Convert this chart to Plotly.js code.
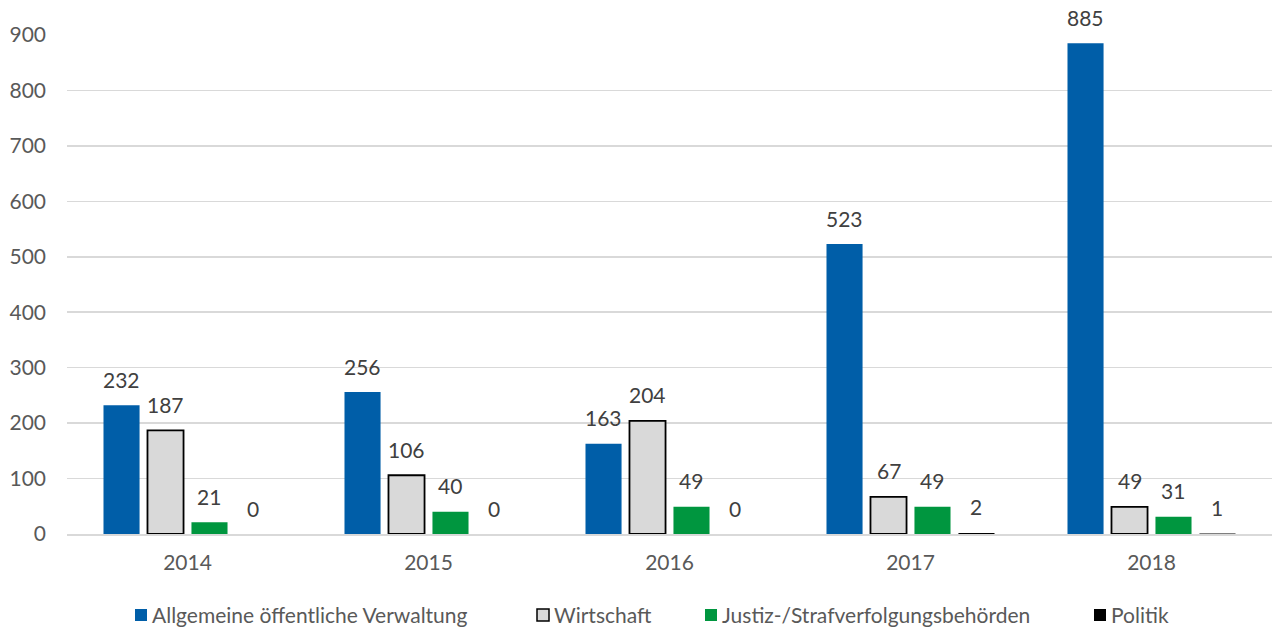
<!DOCTYPE html>
<html><head><meta charset="utf-8">
<script src="https://cdn.plot.ly/plotly-3.0.1.min.js"></script>
<style>html,body{margin:0;padding:0;background:#fff}#c{width:1272px;height:628px}</style>
</head><body><div id="c"></div>
<script>
const years = ['2014','2015','2016','2017','2018'];
const verwaltung = [232, 256, 163, 523, 885];
const wirtschaft = [187, 106, 204, 67, 49];
const justiz = [21, 40, 49, 49, 31];
const politik = [0, 0, 0, 2, 1];
const seriesNames = ['Allgemeine öffentliche Verwaltung','Wirtschaft','Justiz-/Strafverfolgungsbehörden','Politik'];
const yTicks = [0,100,200,300,400,500,600,700,800,900];

const FONT = 'Lato, "Open Sans", sans-serif';
const colors = ['#005ea8','#d9d9d9','#00963f','#000000'];
const lineW = [0, 1.8, 0, 0];
const lineC = ['#005ea8','#000000','#00963f','#000000'];
const vals = [verwaltung, wirtschaft, justiz, politik];

const L = 67, R = 1272, T = 35, B = 534;
const BARGAP = 0.27;
const catPx = (R - L) / years.length;
const slotPx = catPx * (1 - BARGAP) / vals.length;

const traces = vals.map((v,i)=>({
  type:'bar', x: years, y: v, name: seriesNames[i],
  marker:{color: colors[i], line:{color: lineC[i], width: lineW[i]}},
  showlegend:false, hoverinfo:'skip'
}));

const shapes = [], annotations = [];
// data labels, placed at each bar's value (x given as category index)
vals.forEach((v,i)=>{
  v.forEach((val,j)=>{
    annotations.push({x: j, y: val, xref:'x', yref:'y', text: String(val),
      showarrow:false, xanchor:'center', yanchor:'middle',
      xshift: (i - (vals.length-1)/2) * slotPx, yshift: 26,
      font:{family:FONT, size:21, color:'#404040'}});
  });
});

// manual legend
const legX = [135, 537, 705, 1094];
const px2x = p => (p - L)/(R - L);
const px2y = p => (B - p)/(B - T);
seriesNames.forEach((n,i)=>{
  shapes.push({type:'rect', xref:'paper', yref:'paper',
    x0:px2x(legX[i]), x1:px2x(legX[i]+12), y0:px2y(621), y1:px2y(609),
    fillcolor:colors[i], line:{color: i===1?'#000':colors[i], width: i===1?1.5:0}});
  annotations.push({xref:'paper', yref:'paper', x:px2x(legX[i]+16), y:px2y(614),
    xanchor:'left', yanchor:'middle', text:n, showarrow:false, borderpad:0,
    font:{family:FONT, size:21, color:'#595959'}});
});

const layout = {
  width:1272, height:628,
  margin:{l:L, r:1272-R, t:T, b:628-B},
  paper_bgcolor:'#fff', plot_bgcolor:'#fff',
  barmode:'group', bargap:BARGAP, bargroupgap:0.18,
  xaxis:{type:'category', range:[-0.5, years.length-0.5], autorange:false, showgrid:false, showline:true, linecolor:'#d9d9d9', linewidth:1.5,
    ticks:'', tickfont:{family:FONT, size:21, color:'#595959'}, ticklabelstandoff:9, fixedrange:true},
  yaxis:{range:[0,900], autorange:false, tickvals:yTicks, ticktext:yTicks.map(String), showgrid:true, gridcolor:'#d9d9d9', gridwidth:1.5,
    zeroline:false, showline:false, ticks:'', tickfont:{family:FONT, size:21, color:'#595959'},
    ticklabelstandoff:20, fixedrange:true},
  shapes, annotations,
  showlegend:false
};
Plotly.newPlot('c', traces, layout, {displayModeBar:false, staticPlot:true});
</script></body></html>
